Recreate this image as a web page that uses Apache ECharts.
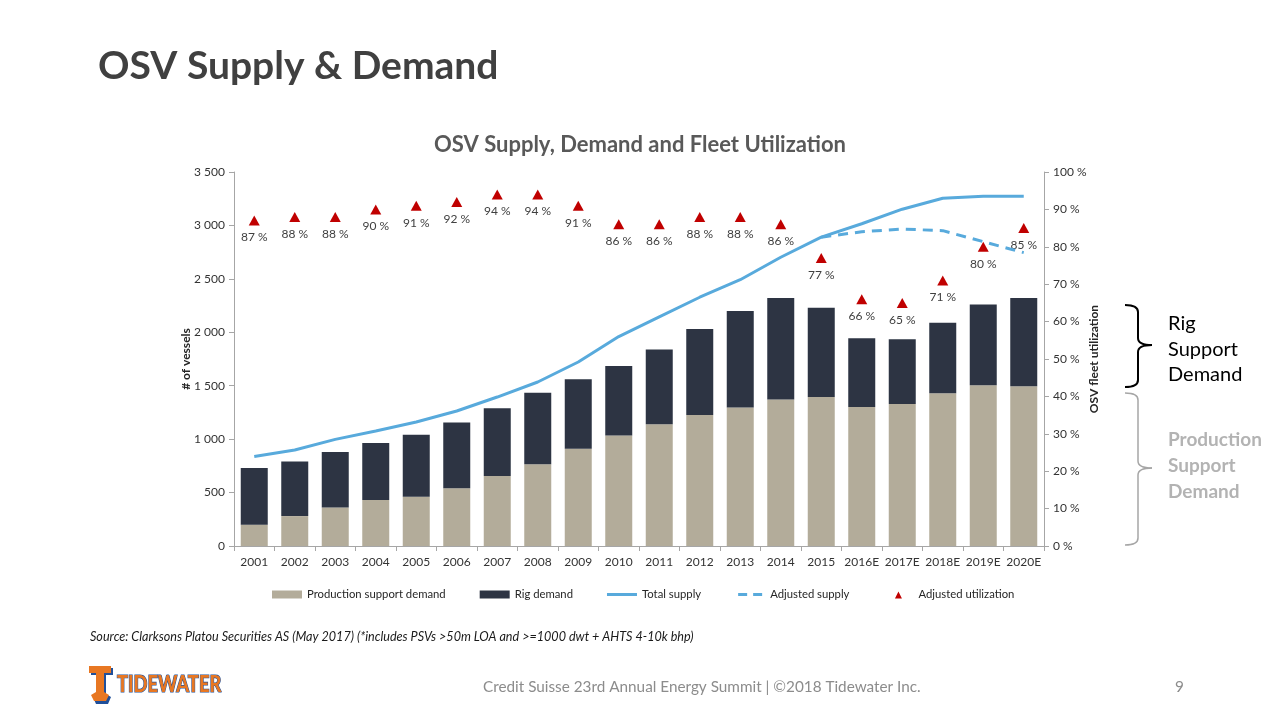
<!DOCTYPE html>
<html><head><meta charset="utf-8">
<script src="https://cdn.jsdelivr.net/npm/echarts@6/dist/echarts.min.js"></script>
<style>html,body{margin:0;padding:0;background:#fff}#c{width:1280px;height:720px}</style>
</head><body><div id="c"></div>
<script>
const categories = ['2001','2002','2003','2004','2005','2006','2007','2008','2009','2010','2011','2012','2013','2014','2015','2016E','2017E','2018E','2019E','2020E'];
const productionSupport = [200,280,360,430,460,540,655,765,910,1035,1140,1225,1295,1370,1395,1300,1330,1430,1505,1495];
const rigDemand = [530,510,520,535,580,615,635,670,650,650,700,805,905,950,835,645,605,660,755,825];
const totalSupply = [838,898,998,1076,1160,1263,1394,1535,1722,1960,2145,2328,2492,2702,2890,3016,3152,3255,3272,3272];
const adjustedSupply = [null,null,null,null,null,null,null,null,null,null,null,null,null,null,2890,2941,2966,2951,2848,2745];
const adjustedUtilization = [87,88,88,90,91,92,94,94,91,86,86,88,88,86,77,66,65,71,80,85];
const leftTicks = {min:0,max:3500,interval:500};
const rightTicks = {min:0,max:100,interval:10};

const FONT = 'Lato';
const chart = echarts.init(document.getElementById('c'));
const axisGray = '#a6a6a6';
const labelColor = '#333';
const BOX = 'M0,0 L0.01,0 L0,0.01 Z M30,8 L29.99,8 L30,7.99 Z ';
const triIcon = 'path://' + BOX + 'M11.5,8 L15,1 L18.5,8 Z';
const lineIcon = 'path://' + BOX + 'M0,2.5 L30,2.5 L30,5.5 L0,5.5 Z';
const dashIcon = 'path://' + BOX + 'M3,2.5 L12,2.5 L12,5.5 L3,5.5 Z M18,2.5 L27,2.5 L27,5.5 L18,5.5 Z';

function brace(x0, xb, xp, yTop, yMid, yBot, color, w) {
  const r = 7;
  const s = {stroke:color,lineWidth:w,fill:null};
  return [
    {type:'bezierCurve',shape:{x1:x0,y1:yTop,x2:xb,y2:yTop+r,cpx1:xb,cpy1:yTop},style:s},
    {type:'line',shape:{x1:xb,y1:yTop+r,x2:xb,y2:yMid-r},style:s},
    {type:'bezierCurve',shape:{x1:xb,y1:yMid-r,x2:xp,y2:yMid,cpx1:xb,cpy1:yMid},style:s},
    {type:'bezierCurve',shape:{x1:xp,y1:yMid,x2:xb,y2:yMid+r,cpx1:xb,cpy1:yMid},style:s},
    {type:'line',shape:{x1:xb,y1:yMid+r,x2:xb,y2:yBot-r},style:s},
    {type:'bezierCurve',shape:{x1:xb,y1:yBot-r,x2:x0,y2:yBot,cpx1:xb,cpy1:yBot},style:s}
  ];
}

chart.setOption({
  animation:false,
  textStyle:{fontFamily:FONT},
  title:[
    {text:'OSV Supply & Demand',left:93,top:42,textStyle:{fontFamily:FONT,fontSize:39,fontWeight:'bold',color:'#404040'}},
    {text:'OSV Supply, Demand and Fleet Utilization',left:'center',top:129,textStyle:{fontFamily:FONT,fontSize:22,fontWeight:'bold',color:'#595959'}}
  ],
  grid:{left:234,right:236,top:172,bottom:174,containLabel:false},
  legend:{
    left:267,top:584,itemWidth:30,itemHeight:8,itemGap:34,
    textStyle:{fontFamily:FONT,fontSize:11.3,color:'#262626'},
    data:[
      {name:'Production support demand',icon:'rect'},
      {name:'Rig demand',icon:'rect'},
      {name:'Total supply',icon:lineIcon},
      {name:'Adjusted supply',icon:dashIcon},
      {name:'Adjusted utilization',icon:triIcon}
    ]
  },
  xAxis:{
    type:'category',data:categories,
    axisLine:{lineStyle:{color:axisGray}},
    axisTick:{show:true,interval:0,length:5,lineStyle:{color:axisGray}},
    axisLabel:{interval:0,fontFamily:FONT,fontSize:12,color:labelColor,margin:10}
  },
  yAxis:[
    {type:'value',min:leftTicks.min,max:leftTicks.max,interval:leftTicks.interval,
     name:'# of vessels',nameLocation:'middle',nameGap:42,nameRotate:90,nameMoveOverlap:false,
     nameTextStyle:{fontFamily:FONT,fontSize:12,fontWeight:'bold',color:'#262626'},
     axisLine:{show:true,lineStyle:{color:axisGray}},
     axisTick:{show:true,length:5,lineStyle:{color:axisGray}},
     splitLine:{show:false},
     axisLabel:{fontFamily:FONT,fontSize:12,color:labelColor,margin:9,
       formatter:v=>String(v).replace(/\B(?=(\d{3})+(?!\d))/g,' ')}},
    {type:'value',min:rightTicks.min,max:rightTicks.max,interval:rightTicks.interval,position:'right',
     name:'OSV fleet utilization',nameLocation:'middle',nameGap:44,nameRotate:90,nameMoveOverlap:false,
     nameTextStyle:{fontFamily:FONT,fontSize:12,fontWeight:'bold',color:'#262626'},
     axisLine:{show:true,lineStyle:{color:axisGray}},
     axisTick:{show:true,length:5,lineStyle:{color:axisGray}},
     splitLine:{show:false},
     axisLabel:{fontFamily:FONT,fontSize:12,color:labelColor,margin:9,formatter:v=>v+' %'}}
  ],
  series:[
    {name:'Production support demand',type:'bar',stack:'d',data:productionSupport,barWidth:27,itemStyle:{color:'#b3ac9a'}},
    {name:'Rig demand',type:'bar',stack:'d',data:rigDemand,barWidth:27,itemStyle:{color:'#2d3443'}},
    {name:'Total supply',type:'line',data:totalSupply,symbol:'none',lineStyle:{color:'#58aadc',width:3},itemStyle:{color:'#58aadc'}},
    {name:'Adjusted supply',type:'line',data:adjustedSupply,symbol:'none',connectNulls:false,lineStyle:{color:'#58aadc',width:3,type:[10,7]},itemStyle:{color:'#58aadc'}},
    {name:'Adjusted utilization',type:'scatter',yAxisIndex:1,data:adjustedUtilization,symbol:'triangle',symbolSize:[11,10],
     itemStyle:{color:'#c00000',opacity:1},
     label:{show:true,position:'bottom',distance:6,formatter:p=>p.value+' %',fontFamily:FONT,fontSize:12,color:'#404040'}}
  ],
  graphic:[].concat(
    brace(1125,1138,1152,305,345,387,'#000',2),
    brace(1125,1138,1152,393,468,545,'#a6a6a6',1.5),
    [
    {type:'text',left:1168,top:311,style:{text:'Rig\nSupport\nDemand',font:'20px Lato',fill:'#000',lineHeight:25.5}},
    {type:'text',left:1168,top:427,style:{text:'Production\nSupport\nDemand',font:'bold 19px Lato',fill:'#b3b3b3',lineHeight:26}},
    {type:'text',left:90,top:630,style:{text:'Source: Clarksons Platou Securities AS (May 2017) (*includes PSVs >50m LOA and >=1000 dwt + AHTS 4-10k bhp)',font:'italic 12.6px Lato',fill:'#1a1a1a'}},
    {type:'text',left:483,top:680,style:{text:'Credit Suisse 23rd Annual Energy Summit | ©2018 Tidewater Inc.',font:'15.3px Lato',fill:'#8c8c8c'}},
    {type:'text',left:1175,top:680,style:{text:'9',font:'15.3px Lato',fill:'#8c8c8c'}},
    {type:'polygon',shape:{points:[[91,668],[113,668],[113,675],[106,675],[106,694],[111,697],[108,704],[96,704],[93,697],[98,694],[98,675],[91,675]]},style:{fill:'#1f4f9a'}},
    {type:'polygon',shape:{points:[[89,666],[111,666],[111,673],[104,673],[104,692],[109,695],[106,701],[94,701],[91,695],[96,692],[96,673],[89,673]]},style:{fill:'#e87722'}},
    {type:'text',x:117,y:674,scaleX:0.83,style:{text:'TIDEWATER',font:'900 22px Lato',fill:'#e87722',stroke:'#1f4f9a',lineWidth:1.2}}
    ]
  )
});
</script></body></html>
